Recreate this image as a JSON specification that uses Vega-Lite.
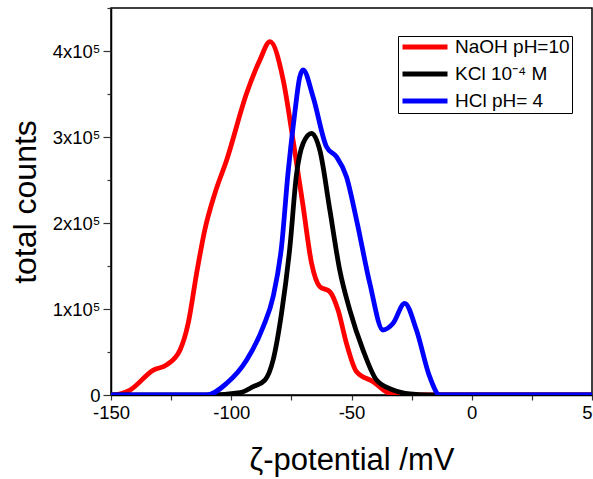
{
  "$schema": "https://vega.github.io/schema/vega-lite/v6.json",
  "width": 481,
  "height": 387,
  "autosize": {"type": "none"},
  "padding": {"left": 111, "top": 8, "right": 1, "bottom": 84},
  "background": "white",
  "config": {
    "font": "Liberation Sans",
    "view": {"stroke": "black", "strokeWidth": 1.5}
  },
  "data": {
    "values": [
      {"s": "NaOH pH=10", "x": -150, "y": 0},
      {"s": "NaOH pH=10", "x": -146, "y": 1500},
      {"s": "NaOH pH=10", "x": -142.1, "y": 5800},
      {"s": "NaOH pH=10", "x": -132.4, "y": 29000},
      {"s": "NaOH pH=10", "x": -126.9, "y": 35000},
      {"s": "NaOH pH=10", "x": -121.3, "y": 52300},
      {"s": "NaOH pH=10", "x": -117.9, "y": 83400},
      {"s": "NaOH pH=10", "x": -114.4, "y": 141500},
      {"s": "NaOH pH=10", "x": -111.0, "y": 191900},
      {"s": "NaOH pH=10", "x": -106.8, "y": 234500},
      {"s": "NaOH pH=10", "x": -101.9, "y": 273300},
      {"s": "NaOH pH=10", "x": -93.6, "y": 350800},
      {"s": "NaOH pH=10", "x": -88.1, "y": 389500},
      {"s": "NaOH pH=10", "x": -83.9, "y": 410800},
      {"s": "NaOH pH=10", "x": -78.4, "y": 366300},
      {"s": "NaOH pH=10", "x": -74.3, "y": 296500},
      {"s": "NaOH pH=10", "x": -70.1, "y": 219000},
      {"s": "NaOH pH=10", "x": -66.6, "y": 153100},
      {"s": "NaOH pH=10", "x": -63.2, "y": 126000},
      {"s": "NaOH pH=10", "x": -59.0, "y": 120100},
      {"s": "NaOH pH=10", "x": -55.6, "y": 98800},
      {"s": "NaOH pH=10", "x": -52.1, "y": 60100},
      {"s": "NaOH pH=10", "x": -47.9, "y": 27100},
      {"s": "NaOH pH=10", "x": -41.0, "y": 15500},
      {"s": "NaOH pH=10", "x": -34.1, "y": 2000},
      {"s": "NaOH pH=10", "x": -25.7, "y": 0},
      {"s": "NaOH pH=10", "x": 50, "y": 0},
      {"s": "KCl 10⁻⁴ M", "x": -150, "y": 0},
      {"s": "KCl 10⁻⁴ M", "x": -108.9, "y": 0},
      {"s": "KCl 10⁻⁴ M", "x": -96.4, "y": 2700},
      {"s": "KCl 10⁻⁴ M", "x": -90.9, "y": 9700},
      {"s": "KCl 10⁻⁴ M", "x": -86.0, "y": 17400},
      {"s": "KCl 10⁻⁴ M", "x": -82.6, "y": 40700},
      {"s": "KCl 10⁻⁴ M", "x": -79.1, "y": 95000},
      {"s": "KCl 10⁻⁴ M", "x": -75.6, "y": 172400},
      {"s": "KCl 10⁻⁴ M", "x": -72.9, "y": 255800},
      {"s": "KCl 10⁻⁴ M", "x": -70.1, "y": 292700},
      {"s": "KCl 10⁻⁴ M", "x": -66.6, "y": 304300},
      {"s": "KCl 10⁻⁴ M", "x": -63.2, "y": 284900},
      {"s": "KCl 10⁻⁴ M", "x": -59.0, "y": 215100},
      {"s": "KCl 10⁻⁴ M", "x": -54.9, "y": 145300},
      {"s": "KCl 10⁻⁴ M", "x": -50.7, "y": 98800},
      {"s": "KCl 10⁻⁴ M", "x": -45.2, "y": 52300},
      {"s": "KCl 10⁻⁴ M", "x": -39.6, "y": 17400},
      {"s": "KCl 10⁻⁴ M", "x": -32.7, "y": 5800},
      {"s": "KCl 10⁻⁴ M", "x": -25.7, "y": 1200},
      {"s": "KCl 10⁻⁴ M", "x": -18, "y": 0},
      {"s": "KCl 10⁻⁴ M", "x": 50, "y": 0},
      {"s": "HCl pH= 4", "x": -150, "y": 0},
      {"s": "HCl pH= 4", "x": -110.2, "y": 0},
      {"s": "HCl pH= 4", "x": -101.9, "y": 13600},
      {"s": "HCl pH= 4", "x": -93.6, "y": 40700},
      {"s": "HCl pH= 4", "x": -86.7, "y": 79400},
      {"s": "HCl pH= 4", "x": -82.6, "y": 114300},
      {"s": "HCl pH= 4", "x": -79.1, "y": 172400},
      {"s": "HCl pH= 4", "x": -76.4, "y": 257800},
      {"s": "HCl pH= 4", "x": -73.6, "y": 327600},
      {"s": "HCl pH= 4", "x": -71.5, "y": 370000},
      {"s": "HCl pH= 4", "x": -70.1, "y": 377900},
      {"s": "HCl pH= 4", "x": -66.0, "y": 346900},
      {"s": "HCl pH= 4", "x": -60.4, "y": 288700},
      {"s": "HCl pH= 4", "x": -56.3, "y": 277100},
      {"s": "HCl pH= 4", "x": -52.1, "y": 253800},
      {"s": "HCl pH= 4", "x": -47.9, "y": 203500},
      {"s": "HCl pH= 4", "x": -42.4, "y": 129900},
      {"s": "HCl pH= 4", "x": -36.9, "y": 75600},
      {"s": "HCl pH= 4", "x": -32.7, "y": 83400},
      {"s": "HCl pH= 4", "x": -27.9, "y": 106600},
      {"s": "HCl pH= 4", "x": -23.0, "y": 75600},
      {"s": "HCl pH= 4", "x": -17.5, "y": 21300},
      {"s": "HCl pH= 4", "x": -13.3, "y": 0},
      {"s": "HCl pH= 4", "x": 50, "y": 0}
    ]
  },
  "mark": {"type": "line", "interpolate": "monotone", "strokeWidth": 4.8, "clip": true},
  "encoding": {
    "x": {
      "field": "x", "type": "quantitative",
      "scale": {"domain": [-150, 50], "nice": false, "zero": false},
      "axis": {
        "title": "ζ-potential /mV",
        "values": [-150, -125, -100, -75, -50, -25, 0, 25, 50],
        "labelExpr": "datum.value % 50 === 0 ? '' + datum.value : ''",
        "grid": false,
        "domainColor": "black", "domainWidth": 1.5,
        "tickColor": "#333", "tickSize": 5, "tickWidth": 1.2,
        "labelFontSize": 18.5, "labelColor": "black", "labelPadding": 3,
        "labelFlush": false,
        "titleFontSize": 31, "titleFontWeight": "normal", "titleColor": "black",
        "titlePadding": 24
      }
    },
    "y": {
      "field": "y", "type": "quantitative",
      "scale": {"domain": [0, 450000], "nice": false},
      "axis": {
        "title": "total counts",
        "values": [0, 50000, 100000, 150000, 200000, 250000, 300000, 350000, 400000, 450000],
        "labelExpr": "datum.value === 0 ? '0' : (datum.value % 100000 === 0 ? (datum.value / 100000) + 'x10⁵' : '')",
        "grid": false,
        "domainColor": "black", "domainWidth": 1.5,
        "tickColor": "#333", "tickWidth": 1.2,
        "tickSize": {"condition": {"test": "datum.value % 100000 === 0", "value": 8}, "value": 4},
        "labelFontSize": 18.5, "labelColor": "black", "labelPadding": 3,
        "labelFlush": false,
        "titleFontSize": 32, "titleFontWeight": "normal", "titleColor": "black",
        "titlePadding": 10
      }
    },
    "color": {
      "field": "s", "type": "nominal", "sort": null,
      "scale": {"domain": ["NaOH pH=10", "KCl 10⁻⁴ M", "HCl pH= 4"], "range": ["#ff0000", "#000000", "#0000ff"]},
      "legend": {
        "title": null,
        "orient": "none",
        "legendX": 287,
        "legendY": 28,
        "symbolType": "stroke",
        "symbolSize": 2025,
        "symbolStrokeWidth": 5,
        "clipHeight": 18,
        "labelFontSize": 19,
        "labelColor": "black",
        "labelOffset": 5,
        "rowPadding": 8,
        "padding": 2,
        "strokeColor": "black",
        "fillColor": "white"
      }
    }
  }
}
